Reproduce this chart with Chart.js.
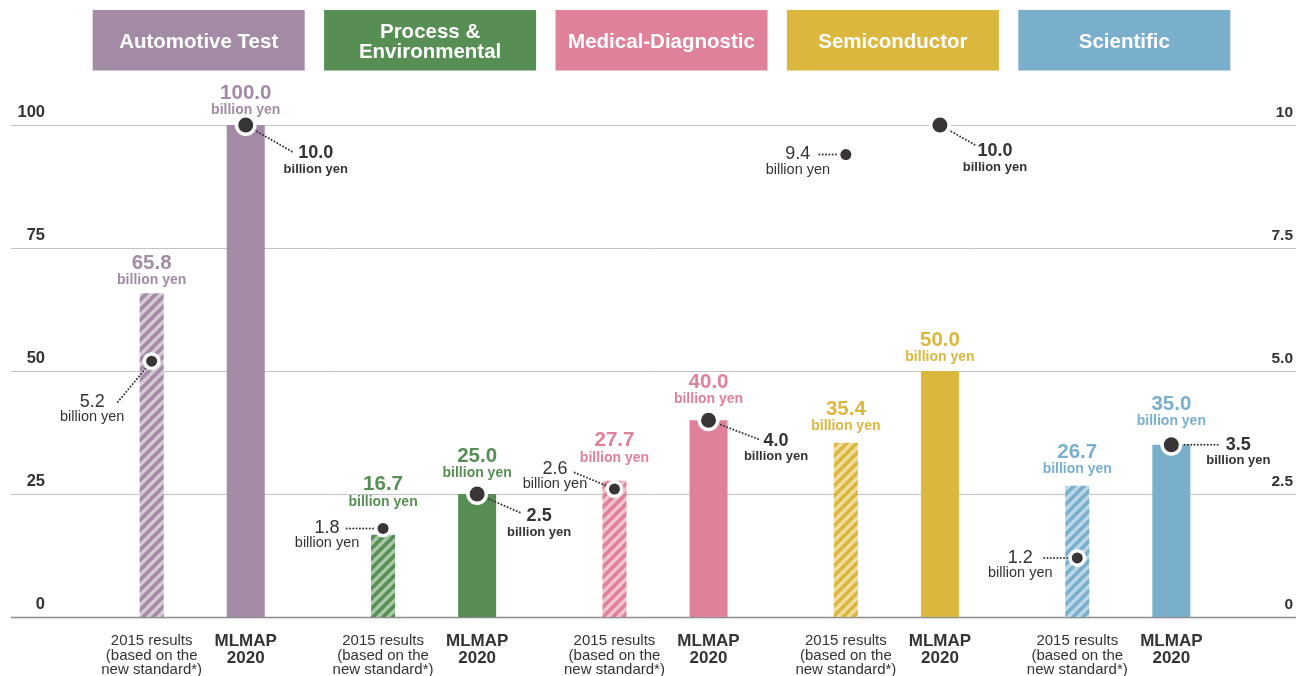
<!DOCTYPE html>
<html><head><meta charset="utf-8">
<script src="https://cdn.jsdelivr.net/npm/chart.js@4.4.0/dist/chart.umd.min.js"></script>
<style>html,body{margin:0;padding:0;background:#fff}#wrap{position:relative;width:1296px;height:676px}</style>
</head><body><div id="wrap"><canvas id="c"></canvas></div>
<script>
// ---- data ----
const categories = [['Automotive Test'], ['Process &', 'Environmental'], ['Medical-Diagnostic'], ['Semiconductor'], ['Scientific']];
const sales2015 = [65.8, 16.7, 27.7, 35.4, 26.7];
const sales2020 = [100.0, 25.0, 40.0, 50.0, 35.0];
const profit2015 = [5.2, 1.8, 2.6, 9.4, 1.2];
const profit2020 = [10.0, 2.5, 4.0, 10.0, 3.5];
const leftTicks = [0, 25, 50, 75, 100];
const rightTicks = [0, 2.5, 5, 7.5, 10];
const rightTickLabels = ['0', '2.5', '5.0', '7.5', '10'];
const barLabel2015 = ['2015 results', '(based on the', 'new standard*)'];
const barLabel2020 = ['MLMAP', '2020'];
const unitText = 'billion yen';

// ---- styles / layout ----
const mainColors = ['#A38AA5', '#568E54', '#DE8199', '#DBB73E', '#79AFCD'];
const lightColors = ['#D5C8D6', '#AAC8A9', '#F2C2CD', '#EFDEA0', '#BCD8E8'];
const FONT = '"Liberation Sans", Arial, Helvetica, sans-serif';
const TXT = '#333333';
const valueLift2015 = [13, 33, 23, 16.5, 16.5];
const valueLift2020 = [15, 21, 21, 13.5, 23.5];
// [label center dx, label center dy, leader end dx, leader end dy] relative to dot
const profitLayout2015 = [[-59.5, 41, -34, 41], [-56, 0, -38, 0], [-59.5, -20, -41, -17], [-48, 0, -28, 0], [-57, 0, -34, 0]];
const profitLayout2020 = [[70, 28, 47, 27], [62, 22, 44, 19], [67.5, 20.5, 50, 19], [55, 26, 37, 21], [67, 0, 49, 0]];

const canvas = document.getElementById('c');
const mainCtx = canvas.getContext('2d');
function makePattern(light, dark) {
  const s = 10;
  const t = document.createElement('canvas'); t.width = s; t.height = s;
  const g = t.getContext('2d');
  g.fillStyle = light; g.fillRect(0, 0, s, s);
  g.strokeStyle = dark; g.lineWidth = 3.6;
  g.beginPath();
  for (const k of [-s, 0, s]) { g.moveTo(k - 1, s + 1); g.lineTo(k + s + 1, -1); }
  g.stroke();
  return mainCtx.createPattern(t, 'repeat');
}
const patterns = mainColors.map((c, i) => makePattern(lightColors[i], c));

function text(ctx, str, x, y, font, color, align) {
  ctx.font = font; ctx.fillStyle = color; ctx.textAlign = align || 'center'; ctx.textBaseline = 'middle';
  ctx.fillText(str, x, y);
}

const decor = {
  id: 'decor',
  beforeDatasetsDraw(chart) {
    const ctx = chart.ctx, y = chart.scales.y, y1 = chart.scales.y1, x = chart.scales.x;
    ctx.save();
    leftTicks.forEach(v => {
      const py = Math.round(y.getPixelForValue(v)) + 0.5;
      ctx.beginPath();
      ctx.strokeStyle = v === 0 ? '#8c8c8c' : '#c2c2c2';
      ctx.lineWidth = v === 0 ? 1.5 : 1;
      ctx.moveTo(11, py); ctx.lineTo(1296, py); ctx.stroke();
      ctx.font = 'bold 16.5px ' + FONT; ctx.fillStyle = TXT; ctx.textAlign = 'right'; ctx.textBaseline = 'alphabetic';
      ctx.fillText(String(v), 45, py - 9);
    });
    rightTicks.forEach((v, i) => {
      const py = Math.round(y1.getPixelForValue(v)) + 0.5;
      ctx.font = 'bold 15.5px ' + FONT; ctx.fillStyle = TXT; ctx.textAlign = 'right'; ctx.textBaseline = 'alphabetic';
      ctx.fillText(rightTickLabels[i], 1293, py - 9);
    });
    categories.forEach((lines, i) => {
      const cx = x.getPixelForValue(i);
      ctx.fillStyle = mainColors[i];
      ctx.fillRect(cx - 106, 10, 212, 60.5);
      const n = lines.length;
      lines.forEach((l, k) => {
        text(ctx, l, cx, 42.5 + (k - (n - 1) / 2) * 19.5, 'bold 20.5px ' + FONT, '#ffffff');
      });
    });
    ctx.restore();
  },
  afterDatasetsDraw(chart) {
    const ctx = chart.ctx, y1 = chart.scales.y1;
    const m15 = chart.getDatasetMeta(0).data, m20 = chart.getDatasetMeta(1).data;
    ctx.save();
    for (let i = 0; i < categories.length; i++) {
      [[m15[i], sales2015[i], valueLift2015[i]], [m20[i], sales2020[i], valueLift2020[i]]].forEach(([bar, v, lift]) => {
        const uy = bar.y - lift;
        text(ctx, unitText, bar.x, uy, 'bold 14px ' + FONT, mainColors[i]);
        text(ctx, v.toFixed(1), bar.x, uy - 17, 'bold 20.5px ' + FONT, mainColors[i]);
      });
    }
    for (let i = 0; i < categories.length; i++) {
      [[m15[i], profit2015[i], profitLayout2015[i], false], [m20[i], profit2020[i], profitLayout2020[i], true]].forEach(([bar, p, lay, big]) => {
        const dx = bar.x, dy = y1.getPixelForValue(p);
        ctx.beginPath();
        ctx.setLineDash([0.01, 3.3]); ctx.lineCap = 'round'; ctx.lineWidth = 2; ctx.strokeStyle = TXT;
        ctx.moveTo(dx, dy); ctx.lineTo(dx + lay[2], dy + lay[3]); ctx.stroke();
        ctx.setLineDash([]);
        const r = big ? 7.5 : 5.5;
        ctx.beginPath(); ctx.fillStyle = '#ffffff'; ctx.arc(dx, dy, r + 3.5, 0, Math.PI * 2); ctx.fill();
        ctx.beginPath(); ctx.fillStyle = '#393536'; ctx.arc(dx, dy, r, 0, Math.PI * 2); ctx.fill();
        const lx = dx + lay[0], ly = dy + lay[1];
        if (big) {
          text(ctx, p.toFixed(1), lx, ly, 'bold 18px ' + FONT, TXT);
          text(ctx, unitText, lx, ly + 16, 'bold 13px ' + FONT, TXT);
        } else {
          text(ctx, p.toFixed(1), lx, ly, '18px ' + FONT, TXT);
          text(ctx, unitText, lx, ly + 15, '14.5px ' + FONT, TXT);
        }
      });
    }
    for (let i = 0; i < categories.length; i++) {
      barLabel2015.forEach((l, k) => text(ctx, l, m15[i].x, 641 + k * 14.5, '15px ' + FONT, TXT));
      barLabel2020.forEach((l, k) => text(ctx, l, m20[i].x, 641 + k * 17, 'bold 17px ' + FONT, TXT));
    }
    ctx.restore();
  }
};

new Chart(canvas, {
  type: 'bar',
  data: {
    labels: categories.map(c => c.join(' ')),
    datasets: [
      { label: '2015', data: sales2015, backgroundColor: patterns, borderWidth: 0,
        categoryPercentage: 0.813, barPercentage: 1, maxBarThickness: 24, yAxisID: 'y' },
      { label: '2020', data: sales2020, backgroundColor: mainColors, borderWidth: 0,
        categoryPercentage: 0.813, barPercentage: 1, maxBarThickness: 38, yAxisID: 'y' }
    ]
  },
  options: {
    responsive: true, maintainAspectRatio: false, animation: false,
    layout: { padding: { left: 83, right: 56, top: 125, bottom: 59 } },
    plugins: { legend: { display: false }, tooltip: { enabled: false } },
    scales: {
      x: { display: false, grid: { display: false } },
      y: { display: false, min: 0, max: 100 },
      y1: { display: false, position: 'right', min: 0, max: 10 }
    }
  },
  plugins: [decor]
});
</script></body></html>
